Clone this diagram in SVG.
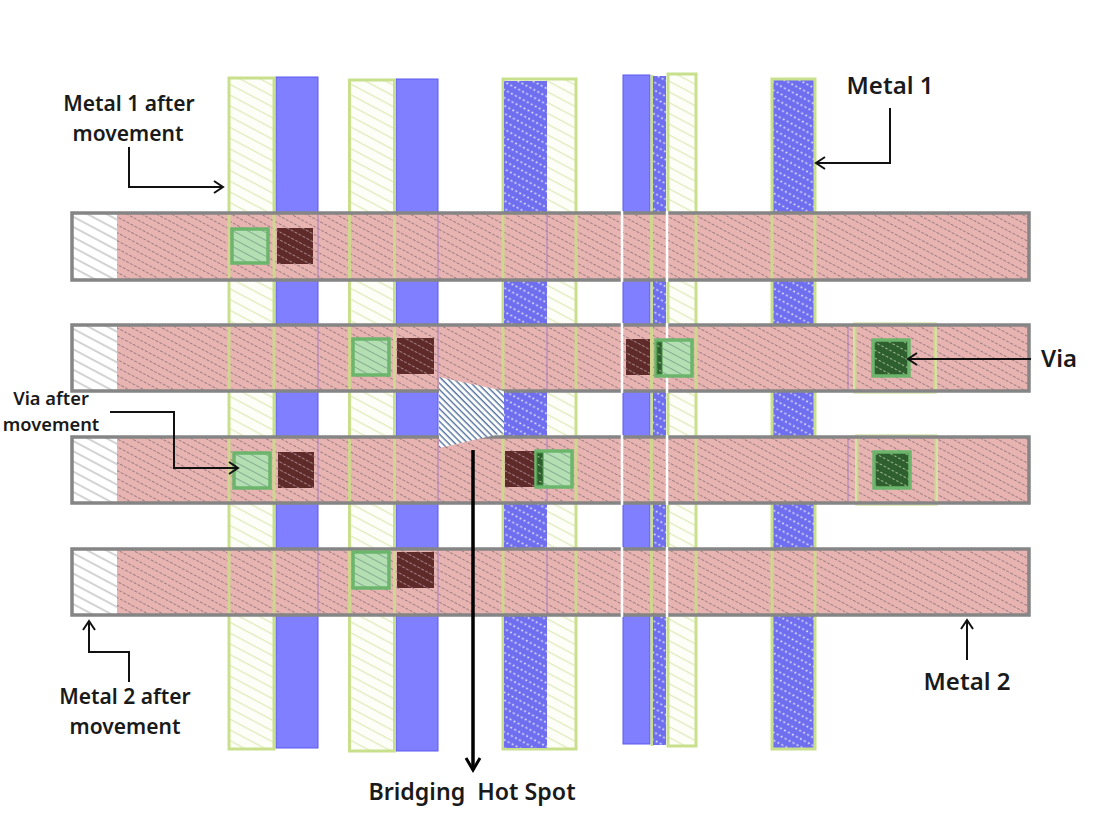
<svg xmlns="http://www.w3.org/2000/svg" width="1100" height="825" viewBox="0 0 1100 825">
<style>
.lbl{font-family:"Noto Sans","DejaVu Sans",sans-serif;font-weight:600;fill:#1a1a1a;text-anchor:middle}
.blue{fill:#7f7fff;stroke:#5a5af0;stroke-width:1}
.dot{fill:url(#dots)}
.moved{fill:url(#lime);stroke:#c8e08c;stroke-width:3}
.m2{fill:url(#pink);stroke:none}
.frame{fill:none;stroke:#858585;stroke-width:3.5}
.wh{fill:url(#gray)}
.strip{fill:#cfd78f}
.pur{stroke:#a87cc0;stroke-width:1;fill:none}
.gv{fill:url(#gv);stroke:#6cb56c;stroke-width:3.5}
.dv{fill:url(#dv)}
.gd{fill:url(#gd);stroke:#6cb56c;stroke-width:3.5}
.gs{fill:url(#gd);stroke:#3f8f3f;stroke-width:1}
.line{fill:none;stroke:#111;stroke-width:2}
.wline{stroke:#fff;stroke-width:2.5;fill:none}
</style>
<defs>
<pattern id="lime" width="22" height="9.500" patternUnits="userSpaceOnUse" patternTransform="rotate(28)"><rect width="22" height="9.500" fill="#fdfef8"/><line x1="0" y1="4.500" x2="22" y2="4.500" stroke="#dbe8b2" stroke-width="1.100"/></pattern>
<pattern id="gray" width="22" height="9" patternUnits="userSpaceOnUse" patternTransform="rotate(28)"><rect width="22" height="9" fill="#fff"/><line x1="0" y1="4" x2="22" y2="4" stroke="#b0b0b0" stroke-width="1.100"/></pattern>
<pattern id="pink" width="18" height="7" patternUnits="userSpaceOnUse" patternTransform="rotate(28)"><rect width="18" height="7" fill="#e8b4b2"/><line x1="0" y1="3.500" x2="18" y2="3.500" stroke="#9a7d80" stroke-width="1" stroke-dasharray="3 1.500"/></pattern>
<pattern id="dots" width="18" height="7" patternUnits="userSpaceOnUse" patternTransform="rotate(28)"><rect width="18" height="7" fill="#6e6eee"/><line x1="0" y1="3.500" x2="18" y2="3.500" stroke="#e4e4ff" stroke-width="1.300" stroke-dasharray="2 2.500"/></pattern>
<pattern id="dv" width="18" height="7" patternUnits="userSpaceOnUse" patternTransform="rotate(28)"><rect width="18" height="7" fill="#5e2a2a"/><line x1="0" y1="3.500" x2="18" y2="3.500" stroke="#a88284" stroke-width="1" stroke-dasharray="3 1.500"/></pattern>
<pattern id="gv" width="18" height="7" patternUnits="userSpaceOnUse" patternTransform="rotate(28)"><rect width="18" height="7" fill="#b3dfb3"/><line x1="0" y1="3.500" x2="18" y2="3.500" stroke="#86ac90" stroke-width="1"/></pattern>
<pattern id="gd" width="18" height="7" patternUnits="userSpaceOnUse" patternTransform="rotate(28)"><rect width="18" height="7" fill="#2f5f2f"/><line x1="0" y1="3.500" x2="18" y2="3.500" stroke="#a3c08f" stroke-width="1" stroke-dasharray="2.500 2"/></pattern>
<pattern id="hot" width="4.500" height="4.500" patternUnits="userSpaceOnUse" patternTransform="rotate(45)"><rect width="4.500" height="4.500" fill="#fff"/><rect width="4.500" height="1.400" fill="#54749f"/></pattern>
<marker id="open" markerWidth="14" markerHeight="14" refX="12" refY="7" orient="auto" markerUnits="userSpaceOnUse"><path d="M3 1 L12 7 L3 13" fill="none" stroke="#111" stroke-width="2"/></marker>
<marker id="bold" markerWidth="18" markerHeight="18" refX="15" refY="9" orient="auto" markerUnits="userSpaceOnUse"><path d="M3 2 L15 9 L3 16" fill="none" stroke="#000" stroke-width="3"/></marker>
</defs>
<rect width="1100" height="825" fill="#fff"/>

<g id="metal1-columns">
<rect class="blue" x="276" y="77" width="42" height="671"/>
<rect class="moved" x="229" y="78" width="45" height="671"/>
<rect class="blue" x="396" y="79" width="42" height="672"/>
<rect class="moved" x="349.500" y="80" width="45" height="671"/>
<rect class="moved" x="503" y="79" width="73" height="670"/>
<rect class="dot" x="504" y="81" width="43" height="667"/>
<rect class="blue" x="623" y="75" width="27" height="669"/>
<rect fill="#c8e08c" x="650.500" y="75" width="3" height="671"/>
<rect class="dot" x="653" y="76" width="13" height="669"/>
<rect class="moved" x="668" y="74" width="28" height="672"/>
<rect class="dot" x="773" y="80" width="41" height="668"/>
<rect fill="none" stroke="#c8e08c" stroke-width="3" x="772" y="79" width="43" height="670"/>
</g>

<g id="metal2-bars">
<g id="bar1"><rect class="m2" x="72" y="213" width="957" height="67"/><rect class="wh" x="73" y="214" width="44" height="65"/></g>
<g id="bar2"><rect class="m2" x="72" y="325" width="957" height="66"/><rect class="wh" x="73" y="326" width="44" height="64"/></g>
<g id="bar3"><rect class="m2" x="72" y="437" width="957" height="66"/><rect class="wh" x="73" y="438" width="44" height="64"/></g>
<g id="bar4"><rect class="m2" x="72" y="549" width="957" height="66"/><rect class="wh" x="73" y="550" width="44" height="64"/></g>
</g>

<g id="crossings">
<path class="pur" d="M318 213V280M438 213V280M547 213V280M318 325V391M438 325V391M547 325V391M318 437V503M438 437V503M547 437V503M318 549V615M438 549V615M547 549V615M848 325V391M848 437V503"/>
<rect class="strip" x="227.500" y="213" width="3" height="67"/><rect class="strip" x="272.500" y="213" width="3" height="67"/><rect class="strip" x="348" y="213" width="3" height="67"/><rect class="strip" x="393" y="213" width="3" height="67"/><rect class="strip" x="501.500" y="213" width="3" height="67"/><rect class="strip" x="574.500" y="213" width="3" height="67"/><rect class="strip" x="650" y="213" width="3" height="67"/><rect class="strip" x="694.500" y="213" width="3" height="67"/><rect class="strip" x="770.500" y="213" width="3" height="67"/><rect class="strip" x="813.500" y="213" width="3" height="67"/>
<rect class="strip" x="227.500" y="325" width="3" height="66"/><rect class="strip" x="272.500" y="325" width="3" height="66"/><rect class="strip" x="348" y="325" width="3" height="66"/><rect class="strip" x="393" y="325" width="3" height="66"/><rect class="strip" x="501.500" y="325" width="3" height="66"/><rect class="strip" x="574.500" y="325" width="3" height="66"/><rect class="strip" x="650" y="325" width="3" height="66"/><rect class="strip" x="694.500" y="325" width="3" height="66"/><rect class="strip" x="853.500" y="325" width="3" height="66"/><rect class="strip" x="933.500" y="325" width="3" height="66"/>
<rect class="strip" x="227.500" y="437" width="3" height="66"/><rect class="strip" x="272.500" y="437" width="3" height="66"/><rect class="strip" x="348" y="437" width="3" height="66"/><rect class="strip" x="393" y="437" width="3" height="66"/><rect class="strip" x="501.500" y="437" width="3" height="66"/><rect class="strip" x="574.500" y="437" width="3" height="66"/><rect class="strip" x="650" y="437" width="3" height="66"/><rect class="strip" x="694.500" y="437" width="3" height="66"/><rect class="strip" x="855.500" y="437" width="3" height="66"/><rect class="strip" x="934.500" y="437" width="3" height="66"/>
<rect class="strip" x="227.500" y="549" width="3" height="66"/><rect class="strip" x="272.500" y="549" width="3" height="66"/><rect class="strip" x="348" y="549" width="3" height="66"/><rect class="strip" x="393" y="549" width="3" height="66"/><rect class="strip" x="501.500" y="549" width="3" height="66"/><rect class="strip" x="574.500" y="549" width="3" height="66"/><rect class="strip" x="650" y="549" width="3" height="66"/><rect class="strip" x="694.500" y="549" width="3" height="66"/><rect class="strip" x="770.500" y="549" width="3" height="66"/><rect class="strip" x="813.500" y="549" width="3" height="66"/>
<rect fill="none" stroke="#d8e6ad" stroke-width="1.500" x="854" y="323" width="82" height="70"/>
<rect fill="none" stroke="#d8e6ad" stroke-width="1.500" x="856" y="435" width="81" height="70"/>
</g>

<g id="metal2-frames">
<rect class="frame" x="72" y="213" width="957" height="67"/>
<rect class="frame" x="72" y="325" width="957" height="66"/>
<rect class="frame" x="72" y="437" width="957" height="66"/>
<rect class="frame" x="72" y="549" width="957" height="66"/>
<path class="wline" d="M622 211V282M622 323V393M622 435V505M622 547V617M667 211V282M667 323V393M667 435V505M667 547V617"/>
</g>

<g id="vias">
<rect class="dv" x="277" y="228" width="36" height="36"/>
<rect class="gv" x="232" y="229" width="36" height="34"/>
<rect class="dv" x="397" y="338" width="37" height="36"/>
<rect class="gv" x="353" y="339" width="36" height="36"/>
<rect class="dv" x="626" y="339" width="24" height="36"/>
<rect class="gv" x="656" y="340" width="36" height="36"/>
<rect class="gs" x="657" y="342" width="5" height="32"/>
<rect class="gd" x="873" y="340" width="36" height="36"/>
<rect class="dv" x="278" y="452" width="36" height="36"/>
<rect class="gv" x="234" y="453" width="36" height="35"/>
<rect class="dv" x="505" y="451" width="30" height="36"/>
<rect class="gv" x="536" y="451" width="36" height="36"/>
<rect class="gs" x="537" y="453" width="6" height="32"/>
<rect class="gd" x="874" y="452" width="36" height="36"/>
<rect class="gv" x="353" y="552" width="36" height="36"/>
<rect class="dv" x="397" y="552" width="37" height="36"/>
</g>

<g id="hot-spot"><polygon points="439,377 504,391 504,433 439,448" fill="url(#hot)"/></g>

<g id="connectors">
<path class="line" marker-end="url(#open)" d="M129 147V187H223"/>
<path class="line" marker-end="url(#open)" d="M890 108V163H816"/>
<path class="line" marker-end="url(#open)" d="M1031 359H908"/>
<path class="line" marker-end="url(#open)" d="M110 412H174V468H238"/>
<path class="line" marker-end="url(#open)" d="M129 682V652H89V621"/>
<path class="line" marker-end="url(#open)" d="M967 660V620"/>
<path fill="none" stroke="#000" stroke-width="3.500" marker-end="url(#bold)" d="M473 450V770"/>
</g>

<g id="labels">
<text class="lbl" x="129" y="111" font-size="21">Metal 1 after</text>
<text class="lbl" x="128" y="141" font-size="21">movement</text>
<text class="lbl" x="890" y="94" font-size="24">Metal 1</text>
<text class="lbl" x="1059" y="367" font-size="24">Via</text>
<text class="lbl" x="51" y="405" font-size="18.300">Via after</text>
<text class="lbl" x="51" y="431" font-size="18.300">movement</text>
<text class="lbl" x="125" y="704" font-size="21">Metal 2 after</text>
<text class="lbl" x="125" y="734" font-size="21">movement</text>
<text class="lbl" x="967" y="690" font-size="24">Metal 2</text>
<text class="lbl" x="472" y="800" font-size="23.200" xml:space="preserve">Bridging  Hot Spot</text>
</g>
</svg>
